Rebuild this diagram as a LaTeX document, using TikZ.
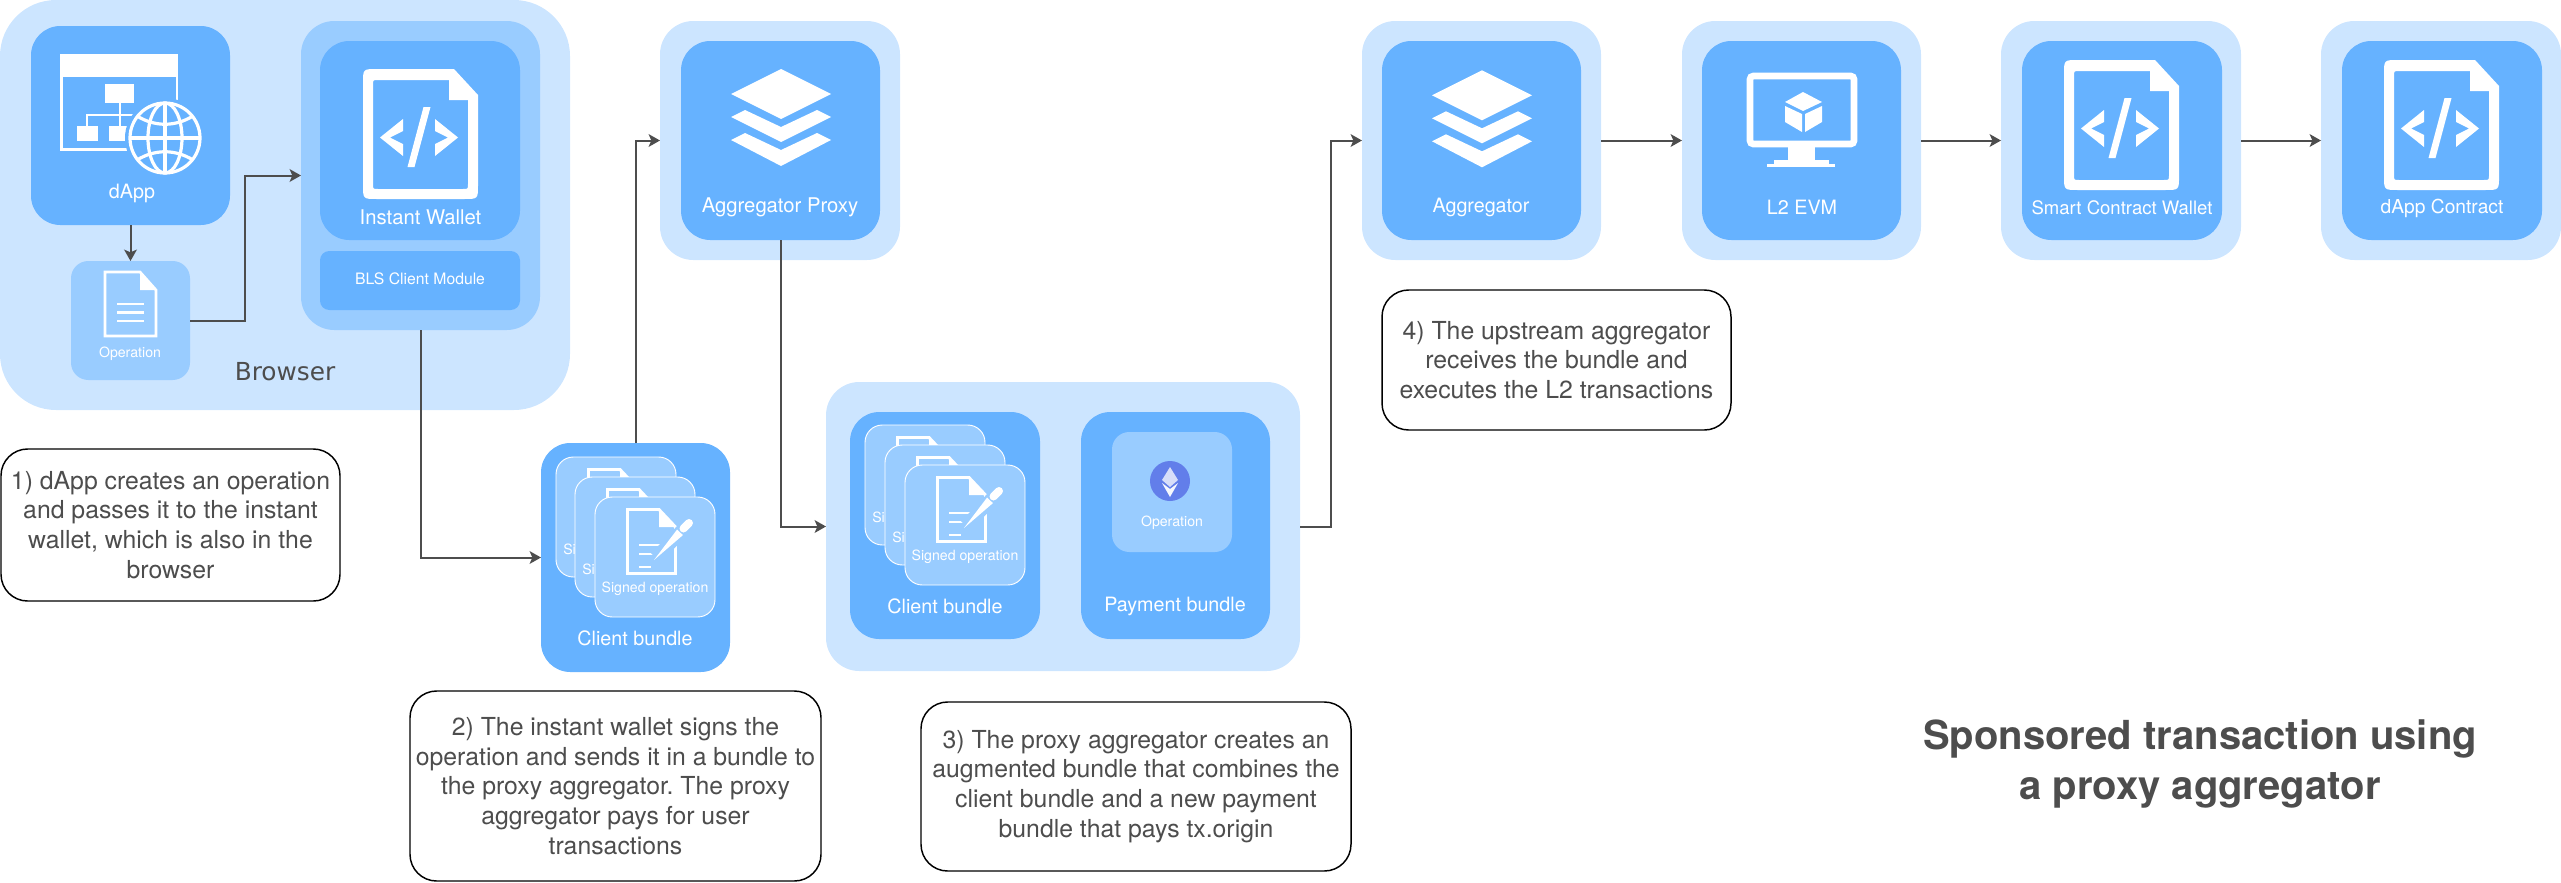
\documentclass[tikz,border=0pt]{standalone}
\usepackage{fontspec}
\setmainfont{TeX Gyre Heros}
\newfontfamily\browserfont{DejaVu Sans}
\usetikzlibrary{arrows.meta}
\definecolor{cA}{HTML}{CCE5FF}
\definecolor{cB}{HTML}{99CCFF}
\definecolor{cC}{HTML}{66B2FF}
\definecolor{ink}{HTML}{4D4D4D}
\definecolor{ethblue}{HTML}{627EEA}
\newcommand\bx[7]{%
  \pgfmathsetmacro\cxx{(#2+#4)/2}\pgfmathsetmacro\cyy{(#3+#5)/2}%
  \pgfmathsetmacro\ww{(#4-#2)*0.75}\pgfmathsetmacro\hh{(#5-#3)*0.75}%
  \node[#6,minimum width=\ww pt,minimum height=\hh pt,inner sep=0pt,outer sep=0pt] (#1) at (\cxx,\cyy) {#7};}
\newcommand\codedoc[2]{%
  \begin{scope}[shift={(#1,#2)}]
    \fill[white,even odd rule]
      (91,0) -- (115,26) -- (115,116) .. controls (115,130) and (115,130) .. (101,130) -- (14,130)
        .. controls (0,130) and (0,130) .. (0,116) -- (0,14) .. controls (0,0) and (0,0) .. (14,0) -- cycle
      (86,11) -- (86,31) -- (105,31) -- (105,115) .. controls (105,120) and (105,120) .. (100,120) -- (15,120)
        .. controls (10,120) and (10,120) .. (10,115) -- (10,16) .. controls (10,11) and (10,11) .. (15,11) -- cycle;
    \fill[white] (17,68.5) -- (40,50) -- (40,62) -- (27,68.5) -- (40,75) -- (40,87) -- cycle;
    \fill[white] (60.5,38) -- (67.5,38) -- (51.5,98) -- (44.5,98) -- cycle;
    \fill[white] (95,68.5) -- (72,50) -- (72,62) -- (85,68.5) -- (72,75) -- (72,87) -- cycle;
  \end{scope}}
\newcommand\layers[2]{%
  \begin{scope}[shift={(#1,#2)}]
    \fill[white] (0,-26) -- (50,-1) -- (0,24) -- (-50,-1) -- cycle;
    \fill[white] (-50,22) -- (-36,15) -- (0,32) -- (36,15) -- (50,22) -- (0,47) -- cycle;
    \fill[white] (-50,45) -- (-36,38) -- (0,55) -- (36,38) -- (50,45) -- (0,71) -- cycle;
  \end{scope}}
\newcommand\signedcard[4]{% name, x, y, text
  \begin{scope}[shift={(#2,#3)}]
    \bx{#1}{0}{0}{120}{120}{cardbox}{}
    \draw[white,line width=2.2pt,miter limit=10] (64,12.5) -- (32.5,12.5) -- (32.5,76.5) -- (80.5,76.5) -- (80.5,30) -- cycle;
    \fill[white] (64,12.5) -- (64,30) -- (80.5,30) -- cycle;
    \draw[white,line width=2.2pt] (44,48) -- (70,48) (44,57) -- (62,57) (44,70) -- (56,70);
    \draw[cB,line width=10pt] (61,61) -- (96,24);
    \fill[white] (59,63) -- (87.9,38.1) -- (82.1,32.5) -- cycle;
    \draw[white,line width=6pt,line cap=round] (88.5,31.5) -- (94,26);
    #4
  \end{scope}}
\tikzset{
  outerA/.style={fill=cA,rounded corners=25pt},
  browserbox/.style={fill=cA,rounded corners=42pt},
  outerB/.style={fill=cB,rounded corners=25pt},
  innerC/.style={fill=cC,rounded corners=22pt},
  opbox/.style={fill=cB,rounded corners=13pt},
  modbox/.style={fill=cC,rounded corners=7pt},
  cardbox/.style={fill=cB,draw=white,line width=0.7pt,rounded corners=13pt},
  notebox/.style={draw=black,line width=1.1pt,fill=white,rounded corners=20pt,text=ink,align=center,font=\frenchspacing\fontsize{18.6}{22.3}\selectfont},
  lbl/.style={text=white,inner sep=0pt,font=\fontsize{14.8}{17}\selectfont},
  lblwide/.style={text=white,inner sep=0pt,font=\fontsize{15.2}{17}\selectfont},
  lblnarrow/.style={text=white,inner sep=0pt,font=\fontsize{13.9}{17}\selectfont},
  smalllbl/.style={text=white,inner sep=0pt,font=\fontsize{10.6}{13}\selectfont},
  link/.style={draw=ink,line width=1.5pt,-{Stealth[length=8.5pt,width=9.5pt,inset=2pt]}},
}
\begin{document}
\begin{tikzpicture}[x=0.75pt,y=-0.75pt]
\useasboundingbox (0,0) rectangle (2561,882);
% Browser group
\bx{browser}{0}{0}{570}{410}{browserbox}{}
\bx{dapp}{31}{26}{230}{225}{innerC}{}
\bx{op}{71}{261}{190}{380}{opbox}{}
\bx{wallet}{301}{21}{540}{330}{outerB}{}
\bx{iwallet}{320}{41}{520}{240}{innerC}{}
\bx{bls}{320}{251}{520}{310}{modbox}{}
\node[text=ink,inner sep=0pt,font=\browserfont\fontsize{18.6}{20}\selectfont] (browserlbl) at (285,372) {Browser};
% dApp icon
\fill[white] (60,54) rectangle (178,77);
\draw[white,line width=2.2pt] (177,77) -- (177,102) (61.5,77) -- (61.5,149.5) -- (130,149.5);
\fill[white] (105,84) rectangle (134,103);
\fill[white] (77,126) rectangle (98,141);
\fill[white] (109,126) rectangle (128,141);
\draw[white,line width=2.2pt] (120,103) -- (120,126) (87,126) -- (87,115) -- (135,115);
\fill[cC] (165,138) circle [radius=40];
\draw[white,line width=2.4pt] (165,138) circle [radius=35];
\draw[white,line width=2.4pt] (165,138) ellipse [x radius=17,y radius=35];
\draw[white,line width=2.4pt] (165,103) -- (165,173) (130,138) -- (200,138);
\draw[white,line width=2.4pt] (137,116) .. controls (155,127) and (175,127) .. (193,116);
\draw[white,line width=2.4pt] (137,160) .. controls (155,149) and (175,149) .. (193,160);
\node[lbl] (dapplbl) at (132,193) {dApp};
% Operation doc
\draw[white,line width=2pt,miter limit=10] (140,272) -- (105,272) -- (105,336) -- (156,336) -- (156,290) -- cycle;
\fill[white] (140,272) -- (140,290) -- (156,290) -- cycle;
\draw[white,line width=2pt] (117,304) -- (144,304) (117,312.5) -- (144,312.5) (117,321) -- (144,321);
\node[smalllbl] (oplbl) at (130,354) {Operation};
% Wallet
\codedoc{363}{69}
\node[lblwide] (iwlbl) at (420.5,217) {Instant Wallet};
\node[text=white,inner sep=0pt,font=\fontsize{11.8}{14}\selectfont] (blslbl) at (420,279) {BLS Client Module};
% Client bundle 1
\bx{cbone}{541}{443}{730}{672}{innerC}{}
\signedcard{cardaa}{556}{457}{\node[smalllbl,anchor=west] (aat) at (7,92) {Si};}
\signedcard{cardab}{575}{477}{\node[smalllbl,anchor=west] (abt) at (7,92) {Si};}
\signedcard{cardac}{595}{497}{\node[smalllbl] (act) at (60,92) {Signed operation};}
\node[lbl] (cbonelbl) at (635,638) {Client bundle};
% Proxy
\bx{proxy}{660}{21}{900}{260}{outerA}{}
\bx{proxyin}{681}{41}{880}{240}{innerC}{}
\layers{781}{95}
\node[lblwide] (proxylbl) at (780,207) {Aggregator Proxy};
% Augmented bundle
\bx{aug}{826}{382}{1300}{671}{outerA}{}
\bx{cbtwo}{850}{412}{1040}{639}{innerC}{}
\bx{pay}{1081}{412}{1270}{639}{innerC}{}
\signedcard{cardba}{865}{425}{\node[smalllbl,anchor=west] (bat) at (7,92) {Si};}
\signedcard{cardbb}{885}{445}{\node[smalllbl,anchor=west] (bbt) at (7,92) {Si};}
\signedcard{cardbc}{905}{465}{\node[smalllbl] (bct) at (60,92) {Signed operation};}
\node[lbl] (cbtwolbl) at (945,606) {Client bundle};
\bx{payop}{1112}{432}{1232}{552}{opbox}{}
\fill[ethblue] (1170,481) circle [radius=20];
\fill[white,opacity=0.75] (1170,467) -- (1162,480) -- (1170,487) -- (1178,480) -- cycle;
\fill[white,opacity=0.95] (1162,483) -- (1170,489) -- (1178,483) -- (1170,497) -- cycle;
\node[smalllbl] (payoplbl) at (1172,523) {Operation};
\node[lbl] (paylbl) at (1175,606) {Payment bundle};
% Aggregator
\bx{agg}{1362}{21}{1601}{260}{outerA}{}
\bx{aggin}{1382}{41}{1581}{240}{innerC}{}
\layers{1482}{96.3}
\node[lbl] (agglbl) at (1481,207) {Aggregator};
% L2 EVM
\bx{evm}{1682}{21}{1921}{260}{outerA}{}
\bx{evmin}{1702}{41}{1901}{240}{innerC}{}
\draw[white,line width=5pt,rounded corners=2.5pt] (1750,76) rectangle (1854,144);
\fill[white] (1788,147) rectangle (1815,162);
\fill[white] (1774,160) rectangle (1829,165);
\fill[white] (1767,164) rectangle (1835,167);
\fill[white] (1803,92) -- (1822,102) -- (1803,111) -- (1785,102) -- cycle;
\fill[white] (1785,106) -- (1802,114) -- (1802,132) -- (1785,122) -- cycle;
\fill[white] (1805,114) -- (1822,106) -- (1822,122) -- (1805,132) -- cycle;
\node[lbl] (evmlbl) at (1802,207) {L2 EVM};
% Smart contract wallet
\bx{scw}{2001}{21}{2241}{260}{outerA}{}
\bx{scwin}{2022}{41}{2222}{240}{innerC}{}
\codedoc{2064}{60}
\node[lblnarrow] (scwlbl) at (2122,208) {Smart Contract Wallet};
% dApp contract
\bx{dc}{2321}{21}{2561}{260}{outerA}{}
\bx{dcin}{2342}{41}{2542}{240}{innerC}{}
\codedoc{2384}{60}
\node[lbl,font=\fontsize{14.4}{17}\selectfont] (dclbl) at (2442,208) {dApp Contract};
% Notes
\bx{noteone}{1}{449}{340}{601}{notebox}{1) dApp creates an operation\\and passes it to the instant\\wallet, which is also in the\\browser}
\bx{notetwo}{410}{691}{821}{881}{notebox}{2) The instant wallet signs the\\operation and sends it in a bundle to\\the proxy aggregator. The proxy\\aggregator pays for user\\transactions}
\bx{notethree}{921}{702}{1351}{871}{notebox}{3) The proxy aggregator creates an\\augmented bundle that combines the\\client bundle and a new payment\\bundle that pays tx.origin}
\bx{notefour}{1382}{290}{1731}{430}{notebox}{4) The upstream aggregator\\receives the bundle and\\executes the L2 transactions}
\node[text=ink,align=center,inner sep=0pt,font=\bfseries\fontsize{30}{37.5}\selectfont] (title) at (2200,764) {Sponsored transaction using\\a proxy aggregator};
% Connectors
\draw[link] (dapp.south) -- (op.north);
\draw[link] (op.east) -- ++(55,0) |- (wallet.west);
\draw[link] (wallet.south) |- (cbone.west);
\draw[link] (cbone.north) |- (proxy.west);
\draw[link] (proxyin.south) |- (aug.west);
\draw[link] (aug.east) -- ++(31,0) |- (agg.west);
\draw[link] (agg.east) -- (evm.west);
\draw[link] (evm.east) -- (scw.west);
\draw[link] (scw.east) -- (dc.west);
\end{tikzpicture}
\end{document}
